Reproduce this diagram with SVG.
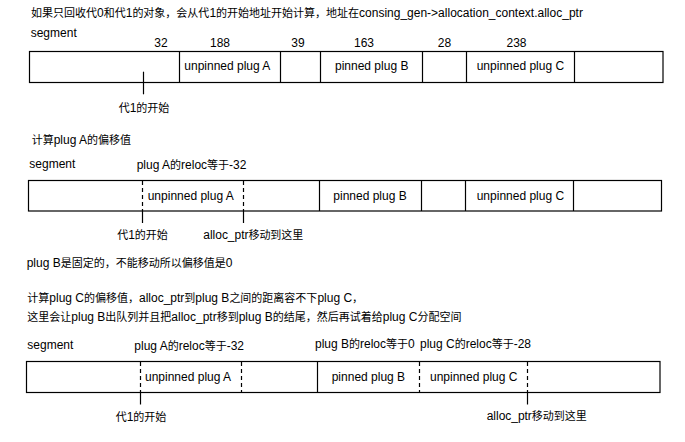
<svg xmlns="http://www.w3.org/2000/svg" width="685" height="442" viewBox="0 0 685 442">
<style>
text{font-family:"Liberation Sans","Noto Sans CJK SC",sans-serif;font-size:12px;fill:#000}
.c{font-size:11px}
.m{text-anchor:middle}
.box{fill:#fff;stroke:#000;stroke-width:1.2}
.div{stroke:#000;stroke-width:1.2}
.dash{stroke:#000;stroke-width:1.2;stroke-dasharray:4 3}
.tick{stroke:#000;stroke-width:1.2}
</style>
<rect width="685" height="442" fill="#fff"/>

<g id="titles">
<text x="31" y="17"><tspan class="c">如果只回收代</tspan>0<tspan class="c">和代</tspan>1<tspan class="c">的对象，会从代</tspan>1<tspan class="c">的开始地址开始计算，地址在</tspan>consing_gen-&gt;allocation_context.alloc_ptr</text>
<text x="31.7" y="144"><tspan class="c">计算</tspan>plug A<tspan class="c">的偏移值</tspan></text>
<text x="26.7" y="267">plug B<tspan class="c">是固定的，不能移动所以偏移值是</tspan>0</text>
<text x="27.3" y="302"><tspan class="c">计算</tspan>plug C<tspan class="c">的偏移值，</tspan>alloc_ptr<tspan class="c">到</tspan>plug B<tspan class="c">之间的距离容不下</tspan>plug C<tspan class="c">，</tspan></text>
<text x="27.3" y="321"><tspan class="c">这里会让</tspan>plug B<tspan class="c">出队列并且把</tspan>alloc_ptr<tspan class="c">移到</tspan>plug B<tspan class="c">的结尾，然后再试着给</tspan>plug C<tspan class="c">分配空间</tspan></text>
</g>

<g id="segment1">
<text x="30.7" y="37">segment</text>
<g id="sizes1">
<text class="m" x="161" y="47">32</text>
<text class="m" x="220" y="47">188</text>
<text class="m" x="298" y="47">39</text>
<text class="m" x="364" y="47">163</text>
<text class="m" x="444.5" y="47">28</text>
<text class="m" x="516.5" y="47">238</text>
</g>
<rect class="box" x="29.5" y="51.5" width="633.5" height="31"/>
<line class="div" x1="179.5" y1="51.5" x2="179.5" y2="82.5"/>
<line class="div" x1="280.5" y1="51.5" x2="280.5" y2="82.5"/>
<line class="div" x1="320.5" y1="51.5" x2="320.5" y2="82.5"/>
<line class="div" x1="422.5" y1="51.5" x2="422.5" y2="82.5"/>
<line class="div" x1="466.5" y1="51.5" x2="466.5" y2="82.5"/>
<line class="div" x1="574.5" y1="51.5" x2="574.5" y2="82.5"/>
<g id="s1-plugA"><text x="184.3" y="70">unpinned plug A</text></g>
<g id="s1-plugB"><text x="335" y="70">pinned plug B</text></g>
<g id="s1-plugC"><text x="476.7" y="70">unpinned plug C</text></g>
<g id="s1-gen1"><text class="m" x="144" y="112"><tspan class="c">代</tspan>1<tspan class="c">的开始</tspan></text></g>
</g>

<g id="segment2">
<text x="29.3" y="168">segment</text>
<text x="136.7" y="169">plug A<tspan class="c">的</tspan>reloc<tspan class="c">等于</tspan>-32</text>
<rect class="box" x="28.5" y="180.5" width="633" height="30.5"/>
<line class="dash" x1="142.5" y1="181" x2="142.5" y2="211"/>
<line class="dash" x1="243.5" y1="181" x2="243.5" y2="211"/>
<line class="div" x1="319.5" y1="180.5" x2="319.5" y2="211"/>
<line class="div" x1="421.5" y1="180.5" x2="421.5" y2="211"/>
<line class="div" x1="465.5" y1="180.5" x2="465.5" y2="211"/>
<line class="div" x1="573.5" y1="180.5" x2="573.5" y2="211"/>
<g id="s2-plugA"><text x="147.7" y="199.5">unpinned plug A</text></g>
<g id="s2-plugB"><text x="333.3" y="199.5">pinned plug B</text></g>
<g id="s2-plugC"><text x="476.7" y="199.5">unpinned plug C</text></g>
<g id="s2-gen1"><text class="m" x="142.5" y="239"><tspan class="c">代</tspan>1<tspan class="c">的开始</tspan></text></g>
<g id="s2-alloc"><text x="203.3" y="239" textLength="100">alloc_ptr<tspan class="c">移动到这里</tspan></text></g>
</g>

<g id="segment3">
<text x="27.3" y="349">segment</text>
<text x="134.3" y="349.5">plug A<tspan class="c">的</tspan>reloc<tspan class="c">等于</tspan>-32</text>
<text x="315" y="348">plug B<tspan class="c">的</tspan>reloc<tspan class="c">等于</tspan>0</text>
<text x="420" y="348">plug C<tspan class="c">的</tspan>reloc<tspan class="c">等于</tspan>-28</text>
<rect class="box" x="26.5" y="361.5" width="633.5" height="31"/>
<line class="dash" x1="140.5" y1="362" x2="140.5" y2="392.5"/>
<line class="dash" x1="241.5" y1="362" x2="241.5" y2="392.5"/>
<line class="div" x1="317.5" y1="361.5" x2="317.5" y2="392.5"/>
<line class="dash" x1="419.5" y1="362" x2="419.5" y2="392.5"/>
<line class="dash" x1="527.5" y1="362" x2="527.5" y2="392.5"/>
<g id="s3-plugA"><text x="145" y="380.5">unpinned plug A</text></g>
<g id="s3-plugB"><text x="331.7" y="380.5">pinned plug B</text></g>
<g id="s3-plugC"><text x="430" y="380.5">unpinned plug C</text></g>
<g id="s3-gen1"><text class="m" x="141" y="421"><tspan class="c">代</tspan>1<tspan class="c">的开始</tspan></text></g>
<g id="s3-alloc"><text x="486.7" y="420" textLength="100">alloc_ptr<tspan class="c">移动到这里</tspan></text></g>
</g>

<g id="connectors">
<line class="tick" x1="143.5" y1="71.7" x2="143.5" y2="94.3"/>
<line class="tick" x1="142.5" y1="211" x2="142.5" y2="223"/>
<line class="tick" x1="243.5" y1="211" x2="243.5" y2="223"/>
<line class="tick" x1="140.5" y1="392.5" x2="140.5" y2="404.5"/>
<line class="tick" x1="527.5" y1="392.5" x2="527.5" y2="404.5"/>
</g>
</svg>
